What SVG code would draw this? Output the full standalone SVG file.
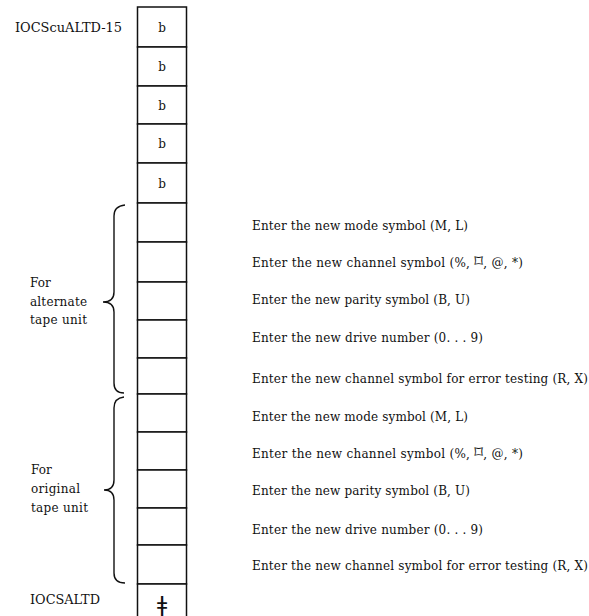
<svg xmlns="http://www.w3.org/2000/svg" width="589" height="616" viewBox="0 0 589 616">
<style>
.t{font-family:"DejaVu Serif","Liberation Serif",serif;font-size:12px;fill:#111}
.b{font-family:"DejaVu Serif","Liberation Serif",serif;font-size:12px;fill:#111;text-anchor:middle}
.sym{font-family:"DejaVu Sans",sans-serif}
.lz{font-family:"DejaVu Sans",sans-serif;font-size:17px}
.cell{fill:#fff;stroke:#111;stroke-width:1.5}
.brace{fill:none;stroke:#111;stroke-width:1.4}
</style>
<rect width="589" height="616" fill="#fff"/>
<g id="label-top"><text class="t" x="15" y="32" textLength="107" lengthAdjust="spacingAndGlyphs">IOCScuALTD-15</text></g>
<g id="label-bottom"><text class="t" x="30" y="604" textLength="70" lengthAdjust="spacingAndGlyphs">IOCSALTD</text></g>
<g id="label-alternate"><text class="t" x="30" y="287">For</text><text class="t" x="30" y="306" textLength="57">alternate</text><text class="t" x="30" y="324" textLength="57">tape unit</text></g>
<g id="label-original"><text class="t" x="31" y="474">For</text><text class="t" x="31" y="493" textLength="49">original</text><text class="t" x="31" y="512" textLength="57">tape unit</text></g>
<g id="column">
<g id="cell1"><rect class="cell" x="137.5" y="7" width="49" height="40"/><text class="b" x="162" y="32">b</text></g>
<g id="cell2"><rect class="cell" x="137.5" y="47" width="49" height="39"/><text class="b" x="162" y="71">b</text></g>
<g id="cell3"><rect class="cell" x="137.5" y="86" width="49" height="38"/><text class="b" x="162" y="110">b</text></g>
<g id="cell4"><rect class="cell" x="137.5" y="124" width="49" height="39"/><text class="b" x="162" y="148">b</text></g>
<g id="cell5"><rect class="cell" x="137.5" y="163" width="49" height="40"/><text class="b" x="162" y="188">b</text></g>
<g id="cell6"><rect class="cell" x="137.5" y="203" width="49" height="39"/></g>
<g id="cell7"><rect class="cell" x="137.5" y="242" width="49" height="40"/></g>
<g id="cell8"><rect class="cell" x="137.5" y="282" width="49" height="38"/></g>
<g id="cell9"><rect class="cell" x="137.5" y="320" width="49" height="38"/></g>
<g id="cell10"><rect class="cell" x="137.5" y="358" width="49" height="36"/></g>
<g id="cell11"><rect class="cell" x="137.5" y="394" width="49" height="38"/></g>
<g id="cell12"><rect class="cell" x="137.5" y="432" width="49" height="38"/></g>
<g id="cell13"><rect class="cell" x="137.5" y="470" width="49" height="38"/></g>
<g id="cell14"><rect class="cell" x="137.5" y="508" width="49" height="37"/></g>
<g id="cell15"><rect class="cell" x="137.5" y="545" width="49" height="39"/></g>
<g id="cell16"><rect class="cell" x="137.5" y="584" width="49" height="40"/><text class="b sym" x="162" y="612" style="font-size:22px">ǂ</text></g>
</g>
<g id="connectors">
<path class="brace" d="M125,205 Q114,206 114,216 L114,292 Q114,302 103,302 Q114,302 114,312 L114,383 Q114,393 124,393"/>
<path class="brace" d="M124,397 Q114,398 114,408 L114,480 Q114,490 104,490 Q114,490 114,500 L114,573 Q114,583 125,583"/>
</g>
<g id="notes">
<text class="t" x="252" y="230" textLength="216">Enter the new mode symbol (M, L)</text>
<text class="t" x="252" y="267" textLength="271">Enter the new channel symbol (%, <tspan class="lz">⌑</tspan>, @, *)</text>
<text class="t" x="252" y="304" textLength="218">Enter the new parity symbol (B, U)</text>
<text class="t" x="252" y="342" textLength="231">Enter the new drive number (0. . . 9)</text>
<text class="t" x="252" y="383" textLength="336">Enter the new channel symbol for error testing (R, X)</text>
<text class="t" x="252" y="421" textLength="216">Enter the new mode symbol (M, L)</text>
<text class="t" x="252" y="458" textLength="271">Enter the new channel symbol (%, <tspan class="lz">⌑</tspan>, @, *)</text>
<text class="t" x="252" y="495" textLength="218">Enter the new parity symbol (B, U)</text>
<text class="t" x="252" y="534" textLength="231">Enter the new drive number (0. . . 9)</text>
<text class="t" x="252" y="570" textLength="336">Enter the new channel symbol for error testing (R, X)</text>
</g>
</svg>
